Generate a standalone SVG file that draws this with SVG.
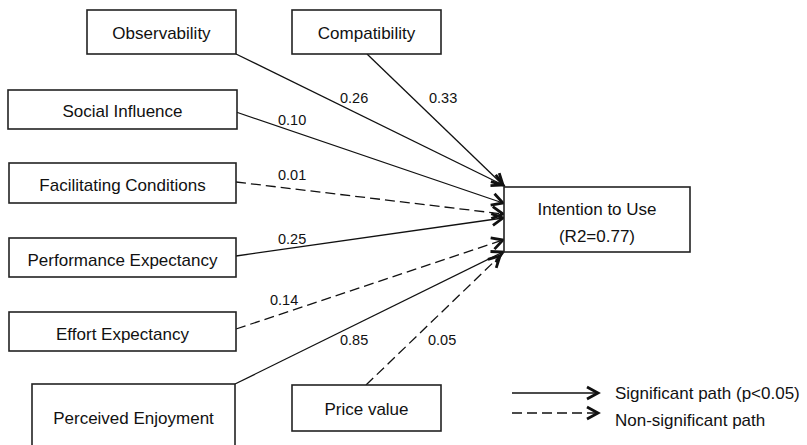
<svg xmlns="http://www.w3.org/2000/svg" width="807" height="445" viewBox="0 0 807 445">
<defs>
<marker id="ah" markerUnits="userSpaceOnUse" markerWidth="16" markerHeight="16" viewBox="0 0 16 16" refX="13" refY="8" orient="auto">
<path d="M2,2 L13,8 L2,14" fill="none" stroke="#111" stroke-width="2.8" stroke-linejoin="miter"/>
</marker>
<style>
.box{fill:#fff;stroke:#222;stroke-width:1.6}
.lbl{font-family:"Liberation Sans",Arial,sans-serif;font-size:17px;fill:#111;text-anchor:middle}
.num{font-family:"Liberation Sans",Arial,sans-serif;font-size:14.5px;fill:#111}
.sig{stroke:#111;stroke-width:1.3;fill:none;marker-end:url(#ah)}
.ns{stroke:#111;stroke-width:1.3;fill:none;stroke-dasharray:10,5;marker-end:url(#ah)}
</style>
</defs>
<rect width="807" height="445" fill="#fff"/>
<g id="connectors">
<line class="sig" x1="236" y1="54" x2="503" y2="185"/>
<line class="sig" x1="367" y1="54" x2="503" y2="185"/>
<line class="sig" x1="236" y1="112" x2="503" y2="203"/>
<line class="ns" x1="236" y1="182" x2="503" y2="214"/>
<line class="sig" x1="236" y1="256" x2="503" y2="218"/>
<line class="ns" x1="236" y1="329" x2="503" y2="240"/>
<line class="sig" x1="235" y1="384" x2="503" y2="252"/>
<line class="ns" x1="366" y1="385" x2="500" y2="256"/>
<text class="num" x="340" y="103">0.26</text>
<text class="num" x="429" y="103">0.33</text>
<text class="num" x="278" y="125">0.10</text>
<text class="num" x="278" y="180">0.01</text>
<text class="num" x="278" y="244">0.25</text>
<text class="num" x="270" y="305">0.14</text>
<text class="num" x="340" y="345">0.85</text>
<text class="num" x="428" y="345">0.05</text>
</g>
<g id="observability"><rect class="box" x="87" y="10" width="149" height="44"/><text class="lbl" x="161.5" y="39">Observability</text></g>
<g id="compatibility"><rect class="box" x="292" y="10" width="149" height="44"/><text class="lbl" x="366.5" y="39">Compatibility</text></g>
<g id="social-influence"><rect class="box" x="8" y="90" width="229" height="39"/><text class="lbl" x="122.5" y="117">Social Influence</text></g>
<g id="facilitating-conditions"><rect class="box" x="9" y="163" width="227" height="40"/><text class="lbl" x="122.5" y="191">Facilitating Conditions</text></g>
<g id="performance-expectancy"><rect class="box" x="9" y="238" width="227" height="39"/><text class="lbl" x="122.5" y="266">Performance Expectancy</text></g>
<g id="effort-expectancy"><rect class="box" x="9" y="312" width="227" height="39"/><text class="lbl" x="122.5" y="340">Effort Expectancy</text></g>
<g id="perceived-enjoyment"><rect class="box" x="32" y="384" width="203" height="70"/><text class="lbl" x="133.5" y="424">Perceived Enjoyment</text></g>
<g id="price-value"><rect class="box" x="292" y="385" width="149" height="46"/><text class="lbl" x="366.5" y="415">Price value</text></g>
<g id="intention-to-use"><rect class="box" x="504" y="187" width="186" height="65"/><text class="lbl" x="597" y="215">Intention to Use</text><text class="lbl" x="597" y="242">(R2=0.77)</text></g>
<g id="legend">
<line class="sig" x1="512" y1="393" x2="598" y2="393"/>
<line class="ns" x1="512" y1="413" x2="598" y2="413"/>
<text class="lbl" x="615" y="399" style="text-anchor:start">Significant path (p&lt;0.05)</text>
<text class="lbl" x="615" y="426" style="text-anchor:start">Non-significant path</text>
</g>
</svg>
